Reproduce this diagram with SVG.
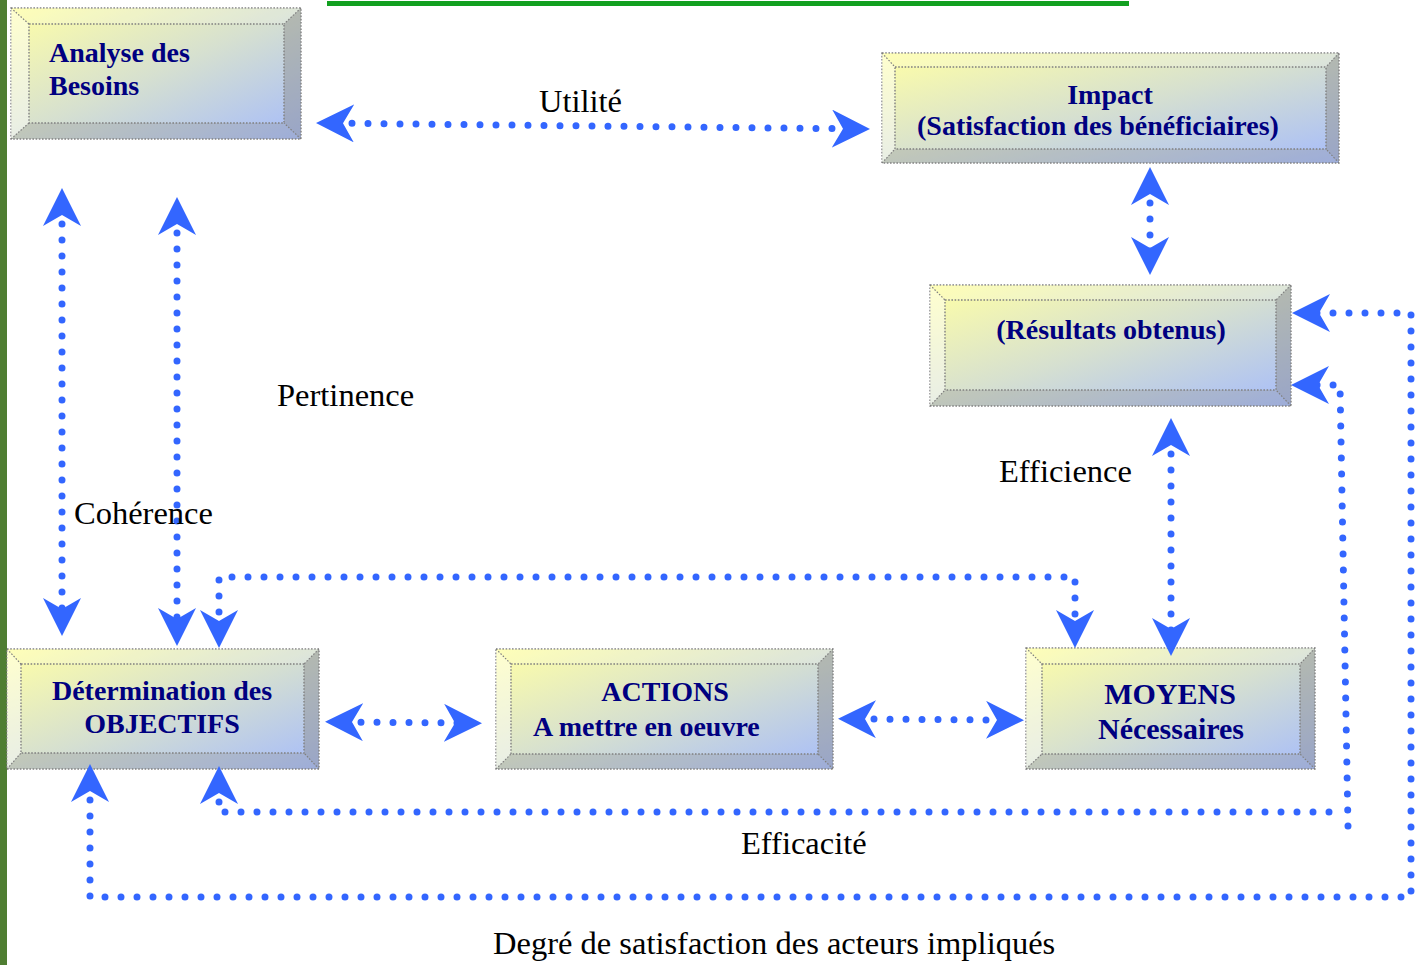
<svg xmlns="http://www.w3.org/2000/svg" width="1425" height="965" viewBox="0 0 1425 965">
  <style>
    .nt { font-family: "Liberation Serif", "Times New Roman", serif; font-weight: bold; font-size: 28px; fill: #000080; }
    .big { font-size: 30px; }
    .lb { font-family: "Liberation Serif", "Times New Roman", serif; font-size: 32.5px; fill: #000000; }
    .face { fill: url(#faceGrad); stroke: #808080; stroke-width: 1.4; stroke-dasharray: 1.6 1.6; }
    .inner { fill: none; stroke: #808080; stroke-width: 1.4; stroke-dasharray: 1.6 1.6; }
    .edge { fill: none; stroke: #808080; stroke-width: 1.2; stroke-dasharray: 1.6 1.6; }
    .hl { fill: #ffffff; opacity: 0.45; stroke: none; }
    .hlt { fill: #ffffff; opacity: 0.2; stroke: none; }
    .sh { fill: #8a8a8a; opacity: 0.45; stroke: none; }
    .shb { fill: #8a8a8a; opacity: 0.3; stroke: none; }
    .link { fill: none; stroke: #3366ff; stroke-width: 7; stroke-linecap: round; stroke-dasharray: 0 16; marker-start: url(#head); marker-end: url(#head); }
  </style>
  <defs>
    <linearGradient id="faceGrad" x1="0" y1="0" x2="1" y2="1">
      <stop offset="0" stop-color="#ffffa6"/>
      <stop offset="0.5" stop-color="#d6e0d0"/>
      <stop offset="1" stop-color="#a6bcfb"/>
    </linearGradient>
    <!-- arrowhead tip sits 20px beyond the line end, so the dots stop under the head -->
    <marker id="head" viewBox="0 0 38 38" refX="18" refY="19" markerWidth="38" markerHeight="38" markerUnits="userSpaceOnUse" orient="auto-start-reverse">
      <path d="M38,19 L0,0 L11,19 L0,38 Z" fill="#3366ff"/>
    </marker>
  </defs>

  <rect width="1425" height="965" fill="#ffffff"/>
  <!-- side band and title rule -->
  <rect x="0" y="0" width="7" height="965" fill="#4f7e32"/>
  <rect x="327" y="1" width="802" height="5" fill="#12a020"/>

  <!-- Analyse des Besoins -->
  <g id="node-besoins">
    <rect class="face" x="11" y="8" width="290" height="131"/>
    <polygon class="hl" points="11,8 29,24 29,123 11,139"/>
    <polygon class="hlt" points="11,8 301,8 284,24 29,24"/>
    <polygon class="sh" points="301,8 301,139 284,123 284,24"/>
    <polygon class="shb" points="11,139 29,123 284,123 301,139"/>
    <rect class="inner" x="29" y="24" width="255" height="99"/>
    <path class="edge" d="M11,8 L29,24 M301,8 L284,24 M11,139 L29,123 M301,139 L284,123"/>
    <text class="nt" x="49" y="62">Analyse des</text>
    <text class="nt" x="49" y="95">Besoins</text>
  </g>

  <!-- Impact -->
  <g id="node-impact">
    <rect class="face" x="882" y="53" width="457" height="110"/>
    <polygon class="hl" points="882,53 895,67 895,149 882,163"/>
    <polygon class="hlt" points="882,53 1339,53 1326,67 895,67"/>
    <polygon class="sh" points="1339,53 1339,163 1326,149 1326,67"/>
    <polygon class="shb" points="882,163 895,149 1326,149 1339,163"/>
    <rect class="inner" x="895" y="67" width="431" height="82"/>
    <path class="edge" d="M882,53 L895,67 M1339,53 L1326,67 M882,163 L895,149 M1339,163 L1326,149"/>
    <text class="nt" x="1110" y="104" text-anchor="middle">Impact</text>
    <text class="nt" x="1098" y="135" text-anchor="middle">(Satisfaction des bénéficiaires)</text>
  </g>

  <!-- Résultats obtenus -->
  <g id="node-resultats">
    <rect class="face" x="930" y="285" width="361" height="121"/>
    <polygon class="hl" points="930,285 945,300 945,390 930,406"/>
    <polygon class="hlt" points="930,285 1291,285 1276,300 945,300"/>
    <polygon class="sh" points="1291,285 1291,406 1276,390 1276,300"/>
    <polygon class="shb" points="930,406 945,390 1276,390 1291,406"/>
    <rect class="inner" x="945" y="300" width="331" height="90"/>
    <path class="edge" d="M930,285 L945,300 M1291,285 L1276,300 M930,406 L945,390 M1291,406 L1276,390"/>
    <text class="nt" x="1111" y="339" text-anchor="middle">(Résultats obtenus)</text>
  </g>

  <!-- Détermination des OBJECTIFS -->
  <g id="node-objectifs">
    <rect class="face" x="7" y="649" width="312" height="120"/>
    <polygon class="hl" points="7,649 21,664 21,753 7,769"/>
    <polygon class="hlt" points="7,649 319,649 304,664 21,664"/>
    <polygon class="sh" points="319,649 319,769 304,753 304,664"/>
    <polygon class="shb" points="7,769 21,753 304,753 319,769"/>
    <rect class="inner" x="21" y="664" width="283" height="89"/>
    <path class="edge" d="M7,649 L21,664 M319,649 L304,664 M7,769 L21,753 M319,769 L304,753"/>
    <text class="nt" x="162" y="700" text-anchor="middle">Détermination des</text>
    <text class="nt" x="162" y="733" text-anchor="middle">OBJECTIFS</text>
  </g>

  <!-- ACTIONS -->
  <g id="node-actions">
    <rect class="face" x="496" y="649" width="337" height="120"/>
    <polygon class="hl" points="496,649 511,664 511,754 496,769"/>
    <polygon class="hlt" points="496,649 833,649 818,664 511,664"/>
    <polygon class="sh" points="833,649 833,769 818,754 818,664"/>
    <polygon class="shb" points="496,769 511,754 818,754 833,769"/>
    <rect class="inner" x="511" y="664" width="307" height="90"/>
    <path class="edge" d="M496,649 L511,664 M833,649 L818,664 M496,769 L511,754 M833,769 L818,754"/>
    <text class="nt" x="665" y="701" text-anchor="middle">ACTIONS</text>
    <text class="nt" x="533" y="736">A mettre en oeuvre</text>
  </g>

  <!-- MOYENS -->
  <g id="node-moyens">
    <rect class="face" x="1026" y="648" width="289" height="121"/>
    <polygon class="hl" points="1026,648 1042,664 1042,754 1026,769"/>
    <polygon class="hlt" points="1026,648 1315,648 1300,664 1042,664"/>
    <polygon class="sh" points="1315,648 1315,769 1300,754 1300,664"/>
    <polygon class="shb" points="1026,769 1042,754 1300,754 1315,769"/>
    <rect class="inner" x="1042" y="664" width="258" height="90"/>
    <path class="edge" d="M1026,648 L1042,664 M1315,648 L1300,664 M1026,769 L1042,754 M1315,769 L1300,754"/>
    <text class="nt big" x="1170" y="704" text-anchor="middle">MOYENS</text>
    <text class="nt big" x="1171" y="739" text-anchor="middle">Nécessaires</text>
  </g>

  <!-- dotted double-headed links -->
  <g id="connectors">
    <path class="link" d="M336,123.2 L850,128.8"/>
    <path class="link" d="M1150,187 L1150,255"/>
    <path class="link" d="M62,208 L62,616"/>
    <path class="link" d="M177,217 L177,626"/>
    <path class="link" d="M219,628 L219,577 L1075,577 L1075,628"/>
    <path class="link" d="M1171,438 L1171,636"/>
    <path class="link" d="M345,722 L462,723"/>
    <path class="link" d="M858,719 L1004,720"/>
    <path class="link" d="M219,786 L219,812 L1338,812 M1348,826 L1340,385 L1311,385"/>
    <path class="link" d="M90,784 L90,897 L1411,897 L1411,313 L1312,313"/>
  </g>

  <!-- link labels -->
  <g id="labels">
    <text class="lb" x="539" y="112">Utilité</text>
    <text class="lb" x="277" y="406">Pertinence</text>
    <text class="lb" x="74" y="524">Cohérence</text>
    <text class="lb" x="999" y="482">Efficience</text>
    <text class="lb" x="741" y="854">Efficacité</text>
    <text class="lb" x="493" y="954">Degré de satisfaction des acteurs impliqués</text>
  </g>
</svg>
